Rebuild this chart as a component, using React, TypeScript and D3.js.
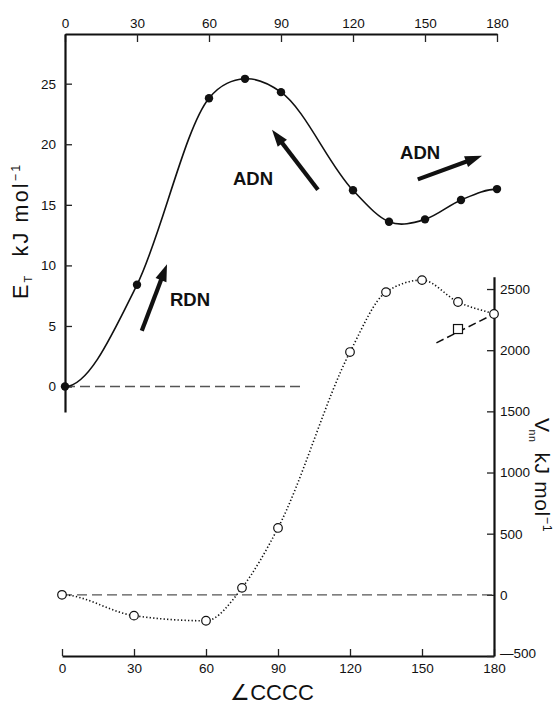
import { useEffect, useRef } from 'react';
import * as d3 from 'd3';

// torsion angle ticks (both x axes)
const angleTicks = [0, 30, 60, 90, 120, 150, 180];
const energyTicks = [0, 5, 10, 15, 20, 25];
const vnnTicks = [-500, 0, 500, 1000, 1500, 2000, 2500];

// E_T curve (filled dots)
const etAngles = [0, 30, 60, 75, 90, 120, 135, 150, 165, 180];
const etValues = [0, 8.4, 23.8, 25.4, 24.3, 16.2, 13.6, 13.8, 15.4, 16.3];

// V_nn curve (open circles)
const vnnAngles = [0, 30, 60, 75, 90, 120, 135, 150, 165, 180];
const vnnValues = [0, -170, -212, 57, 547, 1985, 2475, 2573, 2394, 2296];

// extra point (open square) and its dashed tie line
const squareAngles = [165];
const squareValues = [2173];
const tieAngles = [156, 180];
const tieValues = [2060, 2296];

// annotations: arrow tail/tip and label, in angle / E_T units
const arrowLabels = ['RDN', 'ADN', 'ADN'];
const arrowFrom = [[32, 4.6], [105.4, 16.25], [147, 17.1]];
const arrowTo = [[42.5, 10.1], [86.25, 21.2], [173.75, 19.05]];
const labelAt = [[43.75, 7.2], [70, 17.2], [139.6, 19.3]];

const W = 557;
const H = 704;
const FONT = '"Liberation Sans", Arial, Helvetica, sans-serif';

// cubic Hermite through the points, built in data space and mapped through the
// scales. Slopes: 3-point estimate (or d3-style monotone limiting);
// null end slope = one-sided secant
function smoothPath(xs: number[], ys: number[], sx: any, sy: any, m0: number | null, mN: number | null, monotone = false) {
  const n = xs.length;
  const m = xs.map((_, i) => {
    if (i === 0) return m0 !== null ? m0 : (ys[1] - ys[0]) / (xs[1] - xs[0]);
    if (i === n - 1) return mN !== null ? mN : (ys[n - 1] - ys[n - 2]) / (xs[n - 1] - xs[n - 2]);
    const h0 = xs[i] - xs[i - 1];
    const h1 = xs[i + 1] - xs[i];
    const s0 = (ys[i] - ys[i - 1]) / h0;
    const s1 = (ys[i + 1] - ys[i]) / h1;
    const p = (h1 * s0 + h0 * s1) / (h0 + h1);
    if (!monotone) return p;
    return (Math.sign(s0) + Math.sign(s1)) * Math.min(Math.abs(s0), Math.abs(s1), 0.5 * Math.abs(p));
  });
  const path = d3.path();
  path.moveTo(sx(xs[0]), sy(ys[0]));
  for (let i = 0; i < n - 1; i++) {
    const h = xs[i + 1] - xs[i];
    path.bezierCurveTo(
      sx(xs[i] + h / 3), sy(ys[i] + m[i] * h / 3),
      sx(xs[i + 1] - h / 3), sy(ys[i + 1] - m[i + 1] * h / 3),
      sx(xs[i + 1]), sy(ys[i + 1])
    );
  }
  return path.toString();
}

export default function App() {
  const ref = useRef<SVGSVGElement>(null);

  useEffect(() => {
    const svg = d3.select(ref.current);
    svg.selectAll('*').remove();

    // scales (the scan is a bit skewed, so top and bottom x differ by a few px)
    const xTop = d3.scaleLinear().domain([0, 180]).range([65, 497]);
    const xBot = d3.scaleLinear().domain([0, 180]).range([62, 494]);
    const yE = d3.scaleLinear().domain([-2.1, 29.1]).range([412, 34]);
    const yV = d3.scaleLinear().domain([-500, 2600]).range([656, 276.8]);

    const g = svg.append('g').attr('font-family', FONT);

    const styleAxis = (sel: any) => {
      sel.select('.domain').attr('stroke', '#111').attr('stroke-width', 2.2);
      sel.selectAll('.tick line').attr('stroke', '#222').attr('stroke-width', 1.3);
      sel.selectAll('.tick text').attr('fill', '#111').attr('font-size', 13.5).attr('font-family', FONT);
    };

    // top axis
    g.append('g')
      .attr('transform', `translate(0,${yE(29.1)})`)
      .call(d3.axisTop(xTop).tickValues(angleTicks).tickSize(-8).tickSizeOuter(0).tickPadding(6))
      .call(styleAxis);

    // bottom axis
    g.append('g')
      .attr('transform', `translate(0,${yV(-500)})`)
      .call(d3.axisBottom(xBot).tickValues(angleTicks).tickSize(-7).tickSizeOuter(0).tickPadding(7))
      .call(styleAxis);

    // left axis (E_T)
    g.append('g')
      .attr('transform', `translate(${xTop(0)},0)`)
      .call(d3.axisLeft(yE).tickValues(energyTicks).tickSize(-7).tickSizeOuter(0).tickPadding(9))
      .call(styleAxis);

    // right axis (V_nn)
    const rightAxis = g.append('g')
      .attr('transform', `translate(${xBot(180)},0)`)
      .call(d3.axisRight(yV).tickValues(vnnTicks).tickSize(-7).tickSizeOuter(0).tickPadding(6).tickFormat((d: any) => d < 0 ? '\u2014' + Math.abs(d) : String(d)))
      .call(styleAxis);
    rightAxis.selectAll('.tick text').filter((d: any) => d === -500).attr('dy', '0.1em');

    // zero reference lines
    g.append('line')
      .attr('x1', xTop(0)).attr('x2', xTop(98))
      .attr('y1', yE(0)).attr('y2', yE(0))
      .attr('stroke', '#555').attr('stroke-width', 1.4).attr('stroke-dasharray', '10,5');

    g.append('line')
      .attr('x1', xBot(0)).attr('x2', xBot(180))
      .attr('y1', yV(0)).attr('y2', yV(0))
      .attr('stroke', '#555').attr('stroke-width', 1.4).attr('stroke-dasharray', '10,5');

    // E_T curve, flat at both ends
    g.append('path')
      .attr('fill', 'none').attr('stroke', '#111').attr('stroke-width', 1.6)
      .attr('d', smoothPath(etAngles, etValues, xTop, yE, 0, 0));

    const etData = etAngles.map((a, i) => ({ a, v: etValues[i] }));
    g.selectAll('.et-dot')
      .data(etData)
      .enter().append('circle')
      .attr('class', 'et-dot')
      .attr('cx', d => xTop(d.a)).attr('cy', d => yE(d.v))
      .attr('r', 4.2).attr('fill', '#111');

    // V_nn curve, dotted
    g.append('path')
      .attr('fill', 'none').attr('stroke', '#111').attr('stroke-width', 1.6)
      .attr('stroke-dasharray', '1.3,2.2')
      .attr('d', smoothPath(vnnAngles, vnnValues, xBot, yV, 0, null, true));

    // dashed tie line to the square
    const tieData = tieAngles.map((a, i) => ({ a, v: tieValues[i] }));
    g.append('path')
      .datum(tieData)
      .attr('fill', 'none').attr('stroke', '#111').attr('stroke-width', 1.5)
      .attr('stroke-dasharray', '8,4')
      .attr('d', d3.line<any>().x(d => xBot(d.a)).y(d => yV(d.v)));

    const vData = vnnAngles.map((a, i) => ({ a, v: vnnValues[i] }));
    g.selectAll('.v-dot')
      .data(vData)
      .enter().append('circle')
      .attr('class', 'v-dot')
      .attr('cx', d => xBot(d.a)).attr('cy', d => yV(d.v))
      .attr('r', 4.3).attr('fill', '#fff').attr('stroke', '#111').attr('stroke-width', 1.2);

    const sqData = squareAngles.map((a, i) => ({ a, v: squareValues[i] }));
    g.selectAll('.v-sq')
      .data(sqData)
      .enter().append('rect')
      .attr('class', 'v-sq')
      .attr('x', d => xBot(d.a) - 4.5).attr('y', d => yV(d.v) - 4.5)
      .attr('width', 9).attr('height', 9)
      .attr('fill', '#fff').attr('stroke', '#111').attr('stroke-width', 1.2);

    // arrows
    arrowLabels.forEach((label, i) => {
      const x1 = xTop(arrowFrom[i][0]);
      const y1 = yE(arrowFrom[i][1]);
      const x2 = xTop(arrowTo[i][0]);
      const y2 = yE(arrowTo[i][1]);
      const len = Math.hypot(x2 - x1, y2 - y1);
      const ux = (x2 - x1) / len;
      const uy = (y2 - y1) / len;
      const headLen = 17;
      const headHalf = 5.8;
      const bx = x2 - ux * headLen;
      const by = y2 - uy * headLen;
      g.append('line')
        .attr('x1', x1).attr('y1', y1).attr('x2', bx + ux * 2).attr('y2', by + uy * 2)
        .attr('stroke', '#111').attr('stroke-width', 4.2);
      g.append('polygon')
        .attr('points', [
          [x2, y2],
          [bx - uy * headHalf, by + ux * headHalf],
          [bx + uy * headHalf, by - ux * headHalf]
        ].map(p => p.join(',')).join(' '))
        .attr('fill', '#111');
      g.append('text')
        .attr('x', xTop(labelAt[i][0]))
        .attr('y', yE(labelAt[i][1]))
        .attr('dy', '0.36em')
        .attr('font-size', 18.5)
        .attr('font-weight', 'bold')
        .attr('fill', '#111')
        .text(label);
    });

    // left axis title (reads bottom to top)
    const lt = g.append('text')
      .attr('transform', `translate(28,299) rotate(-90)`)
      .attr('text-anchor', 'start')
      .attr('font-size', 21.5)
      .attr('letter-spacing', 2.2)
      .attr('fill', '#111');
    lt.append('tspan').text('E');
    lt.append('tspan').attr('font-size', 11).attr('dy', 4).text('T');
    lt.append('tspan').attr('dy', -4).attr('dx', 17).text('kJ mol');
    lt.append('tspan').attr('font-size', 12.5).attr('dy', -8).text('\u2212');
    lt.append('tspan').attr('font-size', 12.5).text('1');

    // right axis title (reads top to bottom)
    const rt = g.append('text')
      .attr('transform', `translate(535,418) rotate(90)`)
      .attr('text-anchor', 'start')
      .attr('font-size', 21)
      .attr('letter-spacing', 0.6)
      .attr('fill', '#111');
    rt.append('tspan').text('V');
    rt.append('tspan').attr('font-size', 10.5).attr('dx', -3).attr('dy', 6).text('nn');
    rt.append('tspan').attr('dy', -6).attr('dx', 10).text('kJ mol');
    rt.append('tspan').attr('font-size', 12.5).attr('dy', -8).text('\u2212');
    rt.append('tspan').attr('font-size', 12.5).text('1');

    // bottom axis title
    g.append('text')
      .attr('x', xBot(87.5))
      .attr('y', 700)
      .attr('text-anchor', 'middle')
      .attr('font-size', 22)
      .attr('fill', '#111')
      .text('\u2220CCCC');
  }, []);

  return (
    <svg ref={ref} width={W} height={H}
      style={{ position: 'absolute', left: 0, top: 0, background: '#fff' }} />
  );
}
